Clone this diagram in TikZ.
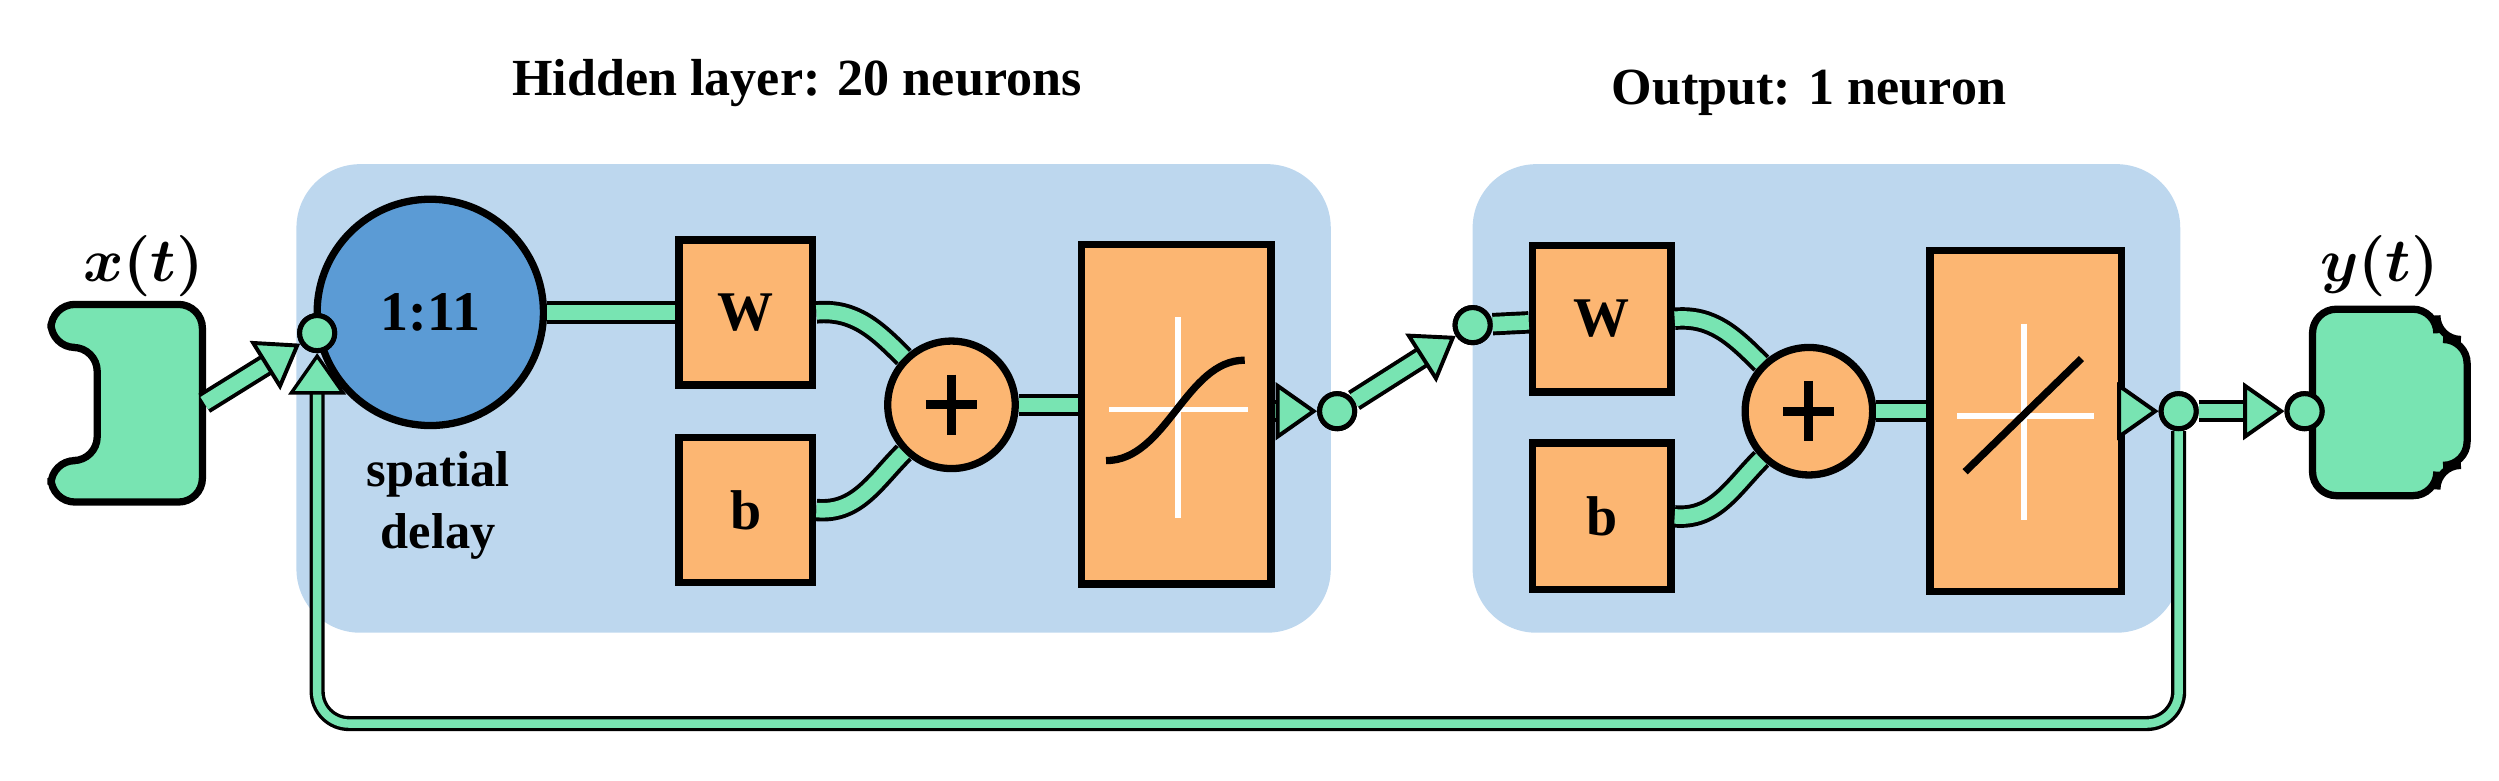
\documentclass[tikz,border=0pt]{standalone}
\usepackage{bm}
\usepackage{fontspec}
\setmainfont{Liberation Serif}
\usetikzlibrary{arrows.meta}
\definecolor{pipe}{RGB}{120,228,178}
\definecolor{wgt}{RGB}{252,182,114}
\definecolor{panel}{RGB}{189,215,238}
\definecolor{delayblue}{RGB}{91,155,213}

\begin{document}
\begin{tikzpicture}[x=0.1mm,y=-0.1mm,
	box/.style={rectangle,draw,line width=1.3pt,fill=wgt,inner sep=0,font=\bfseries\fontsize{10}{12}\selectfont},
	sum/.style={circle,draw,line width=1.3pt,fill=wgt,minimum size=8mm,inner sep=0},
	dot/.style={circle,draw,line width=0.9pt,fill=pipe,minimum size=2.2mm,inner sep=0},
	pipe/.style={double=pipe,double distance=2.6pt,line width=0.7pt},
	fb/.style={double=pipe,double distance=1.5pt,line width=0.6pt},
	title/.style={font=\bfseries\fontsize{9.3}{11}\selectfont}]
	\useasboundingbox (0,0) rectangle (1568,490);
	% panels and titles
	\fill[panel,rounded corners=4mm] (186,103) rectangle (835,397);
	\fill[panel,rounded corners=4mm] (924,103) rectangle (1368,397);
	\node[title] (hidtitle) at (500,52) {Hidden layer: 20 neurons};
	\node[title] (outtitle) at (1135,58) {Output: 1 neuron};
	% input and output blocks
	\draw[line width=1.3pt,fill=pipe,rounded corners=1.5mm] (32,191) -- (127,191) -- (127,315) -- (32,315) -- (32,289) -- (61,289) -- (61,218) -- (32,218) -- cycle;
	\draw[line width=1.3pt,fill=pipe,rounded corners=1.5mm] (1451,194) -- (1529,194) -- (1529,213) -- (1548,213) -- (1548,292) -- (1529,292) -- (1529,311) -- (1451,311) -- cycle;
	\node[minimum width=9.5mm,minimum height=12.4mm,inner sep=0] (xin) at (80,253) {};
	\node[minimum width=7.8mm,minimum height=11.7mm,inner sep=0] (yout) at (1490,253) {};
	\node[font=\fontsize{11}{13}\selectfont] (xlabel) at (90,167) {$\bm{x(t)}$};
	\node[font=\fontsize{11}{13}\selectfont] (ylabel) at (1493,167) {$\bm{y(t)}$};
	% hidden layer
	\node[circle,draw,line width=1.3pt,fill=delayblue,minimum size=14.2mm,inner sep=0,font=\bfseries\fontsize{10}{12}\selectfont] (delay) at (270,196) {1:11};
	\node[align=center,font=\bfseries\fontsize{9}{11}\selectfont] (delaytxt) at (275,317) {spatial\\delay};
	\node[box,minimum width=8.4mm,minimum height=9.1mm] (W1) at (468,196) {W};
	\node[box,minimum width=8.4mm,minimum height=9.1mm] (b1) at (468,320) {b};
	\node[sum] (sum1) at (597,254) {};
	\node[box,minimum width=11.9mm,minimum height=21.3mm] (tf1) at (738,260) {};
	% output layer
	\node[box,minimum width=8.7mm,minimum height=9.2mm] (W2) at (1005,200) {W};
	\node[box,minimum width=8.7mm,minimum height=9.2mm] (b2) at (1005,324) {b};
	\node[sum] (sum2) at (1135,258) {};
	\node[box,minimum width=12mm,minimum height=21.4mm] (tf2) at (1271,264) {};
	% plus signs and transfer functions
	\draw[line width=1.6pt] (sum1.center) ++(-16,0) -- ++(32,0) (sum1.center) ++(0,-19) -- ++(0,38);
	\draw[line width=1.6pt] (sum2.center) ++(-16,0) -- ++(32,0) (sum2.center) ++(0,-19) -- ++(0,38);
	\draw[white,line width=1pt] (696,257) -- (783,257) (739,199) -- (739,325);
	\draw[line width=1.3pt] (694,289) .. controls (732,289) and (744,226) .. (781,226);
	\draw[white,line width=1pt] (1228,261) -- (1314,261) (1270,203) -- (1270,326);
	\draw[line width=1.3pt] (1233,296) -- (1306,225);
	% connectors
	\node[dot] (in) at (199,209) {};
	\node[dot] (mid) at (839,258) {};
	\node[dot] (h2) at (924,204) {};
	\node[dot] (out1) at (1367,258) {};
	\node[dot] (out2) at (1446,258) {};
	\begin{scope}[>={Triangle[length=2.6mm,width=3.6mm,fill=pipe]}]
	\draw[fb,->,rounded corners=2mm] (out1) -- (out1 |- 0,454) -- (in |- 0,454) -- (in.south);
	\draw[pipe,->] (xin.east) -- (in);
	\draw[pipe] (delay) -- (W1);
	\draw[pipe] (W1.east) to[out=5,in=135] (sum1);
	\draw[pipe] (b1.east) to[out=-5,in=-135] (sum1);
	\draw[pipe] (sum1) -- (sum1 -| tf1.west);
	\draw[pipe,->] (tf1.east |- mid) -- (mid);
	\draw[pipe,->] (mid) -- (h2);
	\draw[pipe] (h2) -- (W2);
	\draw[pipe] (W2.east) to[out=5,in=135] (sum2);
	\draw[pipe] (b2.east) to[out=-5,in=-135] (sum2);
	\draw[pipe] (sum2) -- (sum2 -| tf2.west);
	\draw[pipe,->] (tf2.east |- out1) -- (out1);
	\draw[pipe,->] (out1) -- (out2);
	\end{scope}
	\node[dot] at (in) {};
	\node[dot] at (mid) {};
	\node[dot] at (h2) {};
	\node[dot] at (out1) {};
	\node[dot] at (out2) {};
\end{tikzpicture}
\end{document}
